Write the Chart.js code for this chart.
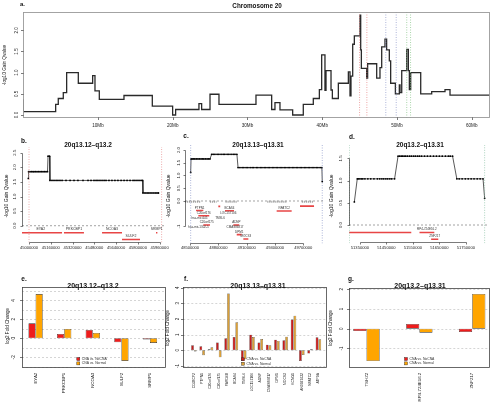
<!DOCTYPE html>
<html><head><meta charset="utf-8">
<script src="https://cdn.jsdelivr.net/npm/chart.js@4.4.1/dist/chart.umd.min.js"></script>
<style>
html,body{margin:0;padding:0;background:#fff;}
#wrap{position:relative;width:493px;height:407px;overflow:hidden;background:#fff;font-family:"Liberation Sans",Arial,Helvetica,sans-serif;color:#111;}
#wrap canvas{position:absolute;left:0;top:0;}
.t{position:absolute;white-space:nowrap;line-height:1;transform:translate(-50%,-50%);}
.b{font-weight:bold;}
.r{transform:translate(-50%,-50%) rotate(-90deg);}
</style></head><body>
<div id="wrap">
<canvas id="pa" width="493" height="407"></canvas>
<canvas id="pb" width="493" height="407"></canvas>
<canvas id="pc" width="493" height="407"></canvas>
<canvas id="pd" width="493" height="407"></canvas>
<canvas id="pe" width="493" height="407"></canvas>
<canvas id="pf" width="493" height="407"></canvas>
<canvas id="pg" width="493" height="407"></canvas>

<div class="t b" style="left:22.5px;top:3.5px;font-size:6px">a.</div>
<div class="t b" style="left:257px;top:6px;font-size:6.3px">Chromosome 20</div>
<div class="t r" style="left:5px;top:65px;font-size:4.7px">-log10 Gain Qvalue</div>

<div class="t b" style="left:24px;top:141px;font-size:6.5px">b.</div>
<div class="t b" style="left:88px;top:145px;font-size:6.5px">20q13.12–q13.2</div>
<div class="t r" style="left:5.5px;top:196px;font-size:5px">-log10 Gain Qvalue</div>

<div class="t b" style="left:186px;top:136px;font-size:6.5px">c.</div>
<div class="t b" style="left:258px;top:145px;font-size:6.5px">20q13.13–q13.31</div>
<div class="t r" style="left:167.5px;top:196px;font-size:5px">-log10 Gain Qvalue</div>

<div class="t b" style="left:352px;top:137px;font-size:6.5px">d.</div>
<div class="t b" style="left:420px;top:145px;font-size:6.5px">20q13.2–q13.31</div>
<div class="t r" style="left:330.5px;top:196px;font-size:5px">-log10 Gain Qvalue</div>

<div class="t b" style="left:24px;top:279px;font-size:6.5px">e.</div>
<div class="t b" style="left:93px;top:285px;font-size:7px">20q13.12–q13.2</div>
<div class="t r" style="left:7.5px;top:326px;font-size:4.6px">log2 Fold Change</div>

<div class="t b" style="left:186px;top:279px;font-size:6.5px">f.</div>
<div class="t b" style="left:258px;top:284.5px;font-size:7px">20q13.13–q13.31</div>
<div class="t r" style="left:167.5px;top:328px;font-size:4.6px">log2 Fold Change</div>

<div class="t b" style="left:351px;top:279px;font-size:6.5px">g.</div>
<div class="t b" style="left:420px;top:284.5px;font-size:7px">20q13.2–q13.31</div>
<div class="t r" style="left:331px;top:328px;font-size:4.6px">log2 Fold Change</div>
</div>

<script>
// ---------------- DATA ----------------
// a. chromosome 20 segment starts (Mb) and -log10 gain q-values
const chrStartMb = [0, 4.34, 4.69, 5.36, 5.81, 7.37, 9.29, 9.60, 10.18, 13.48, 17.27, 19.99, 20.39, 23.51, 23.87, 24.99, 26.19, 31.14, 33.24, 33.68, 34.35, 36.05, 37.47, 38.81, 39.62, 39.93, 40.37, 40.51, 41.18, 41.36, 42.16, 43.50, 43.72, 43.85, 44.08, 44.30, 45.06, 45.15, 45.24, 45.95, 46.08, 47.29, 47.73, 47.96, 48.40, 48.62, 48.98, 49.16, 49.79, 50.32, 50.41, 50.64, 51.31, 51.53, 51.66, 51.84, 53.18, 54.65, 56.43, 57.10, 59.33, 62.45];
const chrQ = [0.37, 0.08, 0.25, 0.39, 0.53, 1.00, 0.75, 0.93, 0.57, 0.37, 0.46, 0.21, 0.00, 0.13, 0.27, 0.13, 0.49, 0.25, 0.47, 0.13, 0.29, 0.12, 0.00, 0.25, 0.39, 0.60, 1.42, 0.58, 1.05, 0.59, 0.39, 0.75, 1.02, 0.45, 0.92, 1.67, 1.87, 2.36, 1.54, 1.10, 0.87, 1.21, 0.87, 1.12, 1.61, 1.79, 1.54, 1.28, 0.75, 0.50, 0.71, 0.53, 1.05, 1.55, 1.05, 0.60, 1.00, 0.50, 0.55, 0.60, 0.47, 0.47];
const chrTickMb = [10, 20, 30, 40, 50, 60];
const chrTickLabels = ['10Mb', '20Mb', '30Mb', '40Mb', '50Mb', '60Mb'];
const qTicksA = [0, 0.5, 1, 1.5, 2];
const qLabelsA = ['0.0', '0.5', '1.0', '1.5', '2.0'];

// zoomed regions (Mb)
const regionB = [45.0, 45.975];
const regionC = [48.507, 49.901];
const regionD = [51.31, 51.821];

// b. 20q13.12-q13.2 probes
const bMb = [44.995, 44.997, 45.007, 45.018, 45.029, 45.037, 45.048, 45.059, 45.070, 45.081, 45.092, 45.103, 45.114, 45.125, 45.136, 45.140, 45.151, 45.154, 45.169, 45.184, 45.199, 45.213, 45.228, 45.243, 45.272, 45.302, 45.331, 45.360, 45.397, 45.434, 45.456, 45.478, 45.493, 45.507, 45.522, 45.537, 45.552, 45.566, 45.588, 45.610, 45.632, 45.654, 45.677, 45.699, 45.721, 45.743, 45.765, 45.779, 45.794, 45.809, 45.824, 45.835, 45.838, 45.853, 45.868, 45.882, 45.897, 45.912, 45.927, 45.941, 45.952];
const bQ = [1.62, 1.85, 1.85, 1.85, 1.85, 1.85, 1.85, 1.85, 1.85, 1.85, 1.85, 1.85, 1.85, 1.85, 1.85, 2.38, 2.38, 1.55, 1.55, 1.55, 1.55, 1.55, 1.55, 1.55, 1.55, 1.55, 1.55, 1.55, 1.55, 1.55, 1.55, 1.55, 1.55, 1.55, 1.55, 1.55, 1.55, 1.55, 1.55, 1.55, 1.55, 1.55, 1.55, 1.55, 1.55, 1.55, 1.55, 1.55, 1.55, 1.55, 1.55, 1.55, 1.12, 1.12, 1.12, 1.12, 1.12, 1.12, 1.12, 1.12, 1.12];
const bTicks = [45.00, 45.16, 45.32, 45.48, 45.64, 45.80, 45.96];
const bTickLabels = ['45000000', '45160000', '45320000', '45480000', '45640000', '45800000', '45960000'];
const bQTicks = [0, 0.5, 1, 1.5, 2, 2.5];
const bQLabels = ['0.0', '0.5', '1.0', '1.5', '2.0', '2.5'];
const bGeneName = ['EYA2', 'PRKCBP1', 'NCOA3', 'SULF2', 'SRMP1'];
const bGeneStart = [44.93, 45.257, 45.537, 45.684, 45.934];
const bGeneEnd = [45.243, 45.404, 45.684, 45.816, 45.944];
const bGeneRow = [-0.24, -0.24, -0.24, -0.47, -0.24];

// c. 20q13.13-q13.31 probes
const cMb = [48.507, 48.511, 48.522, 48.536, 48.551, 48.567, 48.584, 48.600, 48.617, 48.633, 48.647, 48.664, 48.681, 48.697, 48.712, 48.729, 48.745, 48.764, 48.787, 48.806, 48.829, 48.851, 48.869, 48.893, 48.912, 48.935, 48.957, 48.976, 48.997, 49.009, 49.029, 49.052, 49.071, 49.094, 49.113, 49.137, 49.158, 49.176, 49.201, 49.219, 49.243, 49.262, 49.285, 49.304, 49.327, 49.346, 49.370, 49.389, 49.412, 49.431, 49.454, 49.474, 49.497, 49.516, 49.539, 49.558, 49.582, 49.601, 49.624, 49.643, 49.666, 49.685, 49.709, 49.728, 49.751, 49.770, 49.793, 49.813, 49.836, 49.855, 49.878, 49.897, 49.901];
const cQ = [1.12, 1.65, 1.65, 1.65, 1.65, 1.65, 1.65, 1.65, 1.65, 1.65, 1.65, 1.65, 1.65, 1.65, 1.65, 1.83, 1.83, 1.83, 1.83, 1.83, 1.83, 1.83, 1.83, 1.83, 1.83, 1.83, 1.83, 1.83, 1.83, 1.31, 1.31, 1.31, 1.31, 1.31, 1.31, 1.31, 1.31, 1.31, 1.31, 1.31, 1.31, 1.31, 1.31, 1.31, 1.31, 1.31, 1.31, 1.31, 1.31, 1.31, 1.31, 1.31, 1.31, 1.31, 1.31, 1.31, 1.31, 1.31, 1.31, 1.31, 1.31, 1.31, 1.31, 1.31, 1.31, 1.31, 1.31, 1.31, 1.31, 1.31, 1.31, 1.31, 0.76];
const cTicks = [48.5, 48.8, 49.1, 49.4, 49.7];
const cTickLabels = ['48500000', '48800000', '49100000', '49400000', '49700000'];
const cQTicks = [-1, 0, 0.5, 1, 1.5, 2];
const cQLabels = ['-1', '0.0', '0.5', '1.0', '1.5', '2.0'];
const cGeneName = ['PTPN1', 'C20orf176', 'hsa-mir-645', 'C20orf175', 'hsa-mir-1302-5', '', 'BCAS4', 'LOC157106', 'TMSL6', 'ADNP', 'CMAS86817', 'DPM1', 'MOCS3', 'NFATC2', ''];
const cGeneStart = [48.564, 48.588, 48.600, 48.641, 48.590, 48.800, 48.871, 48.905, 48.818, 48.959, 48.977, 48.995, 49.065, 49.418, 49.665];
const cGeneEnd = [48.641, 48.704, 48.600, 48.712, 48.590, 48.820, 48.966, 48.905, 48.818, 49.022, 48.977, 49.048, 49.118, 49.577, 49.814];
const cGeneRow = [-0.37, -0.58, -0.76, -0.94, -1.14, -0.21, -0.38, -0.58, -0.76, -0.94, -1.14, -1.32, -1.49, -0.39, -0.20];
const cStrandStart = [48.447, 48.711, 48.876, 49.318, 49.684];
const cStrandEnd = [48.615, 48.782, 48.999, 49.530, 49.807];

// d. 20q13.2-q13.31 probes
const dMb = [51.329, 51.340, 51.344, 51.350, 51.356, 51.361, 51.369, 51.380, 51.391, 51.403, 51.416, 51.425, 51.433, 51.440, 51.448, 51.455, 51.463, 51.470, 51.481, 51.494, 51.500, 51.506, 51.511, 51.517, 51.523, 51.530, 51.538, 51.545, 51.553, 51.560, 51.568, 51.575, 51.583, 51.594, 51.605, 51.616, 51.628, 51.639, 51.650, 51.661, 51.673, 51.684, 51.691, 51.700, 51.716, 51.725, 51.736, 51.748, 51.759, 51.770, 51.781, 51.793, 51.804, 51.815, 51.821];
const dQ = [0.52, 1.04, 1.04, 1.04, 1.04, 1.04, 1.04, 1.04, 1.04, 1.04, 1.04, 1.04, 1.04, 1.04, 1.04, 1.04, 1.04, 1.04, 1.04, 1.55, 1.55, 1.55, 1.55, 1.55, 1.55, 1.55, 1.55, 1.55, 1.55, 1.55, 1.55, 1.55, 1.55, 1.55, 1.55, 1.55, 1.55, 1.55, 1.55, 1.55, 1.55, 1.55, 1.55, 1.55, 1.04, 1.04, 1.04, 1.04, 1.04, 1.04, 1.04, 1.04, 1.04, 1.04, 0.60];
const dTicks = [51.35, 51.45, 51.55, 51.65, 51.75];
const dTickLabels = ['51350000', '51450000', '51550000', '51650000', '51750000'];
const dQTicks = [0, 0.5, 1, 1.5];
const dQLabels = ['0.0', '0.5', '1.0', '1.5'];
const dGeneName = ['', 'RP4-724E16.2', 'ZNF217'];
const dGeneStart = [51.20, 51.575, 51.619];
const dGeneEnd = [51.544, 51.631, 51.646];
const dGeneRow = [-0.17, -0.17, -0.32];

// e-g. log2 fold change
const seriesNames = ['CNA vs. NoCNA', 'CNA vs. Normal'];
const eGenes = ['EYA2', 'PRKCBP1', 'NCOA3', 'SULF2', 'SRMP1'];
const eNoCNA = [1.58, 0.46, 0.88, -0.42, -0.14];
const eNormal = [4.66, 0.98, 0.56, -2.39, -0.49];
const eTicks = [-2, 0, 2, 4];

const fGenes = ['CD38CP2', 'PTPN1', 'C20orf176', 'C20orf175', 'PARD6B', 'BCAS4', 'TMSL6', 'LOC157106', 'ADNP', 'CMAS86817', 'DPM1', 'MOCS3', 'KCNG1', 'AK0927432', 'NFATC2', 'ATP9A'];
const fNoCNA = [0.32, 0.26, 0.06, 0.49, 0.77, 0.85, -0.66, 1.00, 0.49, 0.36, 0.68, 0.64, 1.96, -0.68, -0.21, 0.83];
const fNormal = [-0.08, -0.32, 0.19, -0.45, 3.62, 1.79, -0.57, 0.85, 0.72, 0.32, 0.60, 0.87, 2.21, -0.30, 0.06, 0.70];
const fTicks = [-1, 0, 1, 2, 3, 4];

const gGenes = ['TSHZ2', 'RP4-724E16.2', 'ZNF217'];
const gNoCNA = [-0.12, 0.24, -0.17];
const gNormal = [-1.64, -0.20, 1.76];
const gTicks = [-1, 0, 1, 2];

// ---------------- RENDERING ----------------
const FF = '"Liberation Sans", Arial, Helvetica, sans-serif';
const W = 493, H = 407;
const RED = '#ee1c1c', ORANGE = '#ffa500', GENE_RED = '#e84545';
const RED_DK = '#c41e1e', ORANGE_DK = '#d9a03a';
Chart.defaults.font.family = FF;
Chart.defaults.animation = false;
Chart.defaults.events = [];
Chart.defaults.plugins.legend.display = false;
Chart.defaults.plugins.tooltip.enabled = false;

function el(id){ return document.getElementById(id); }
function padFor(a){ return {left:a.l, top:a.t, right:W-a.r, bottom:H-a.b}; }
function sc(min, max, extra){
  return Object.assign({
    type:'linear', min:min, max:max, display:true, offset:false,
    ticks:{display:false}, grid:{display:false, drawTicks:false, offset:false}, border:{display:false},
    afterFit:function(s){ if(s.isHorizontal()){ s.height=0; } else { s.width=0; }
      s.paddingLeft=0; s.paddingRight=0; s.paddingTop=0; s.paddingBottom=0; }
  }, extra || {});
}

function rPlot(cfg){
  return {
    id:'rplot',
    beforeDatasetsDraw(chart){
      if(!cfg.grid) return;
      const ctx=chart.ctx, a=chart.chartArea, y=chart.scales.y;
      ctx.save(); ctx.strokeStyle='#c4c4c4'; ctx.lineWidth=0.7; ctx.setLineDash([2,2]);
      cfg.grid.forEach(v=>{ const p=Math.round(y.getPixelForValue(v))+0.5;
        ctx.beginPath(); ctx.moveTo(a.left,p); ctx.lineTo(a.right,p); ctx.stroke(); });
      ctx.restore();
    },
    afterDatasetsDraw(chart){
      const ctx=chart.ctx, x=chart.scales.x, y=chart.scales.y, a=chart.chartArea;
      ctx.save();
      if(cfg.genes){
        const g=cfg.genes;
        ctx.font=g.size+'px '+FF; ctx.fillStyle='#333'; ctx.textAlign='center'; ctx.textBaseline='middle';
        g.names.forEach((n,i)=>{ if(!n) return;
          const gx=x.getPixelForValue((g.start[i]+g.end[i])/2);
          const gy=y.getPixelForValue(g.row[i])-g.off;
          ctx.fillText(n,gx,gy); });
      }
      if(cfg.legend){
        const L=cfg.legend;
        ctx.font=L.size+'px '+FF; ctx.textAlign='left'; ctx.textBaseline='middle';
        L.items.forEach((it,i)=>{
          const lx=a.left+L.dx, ly=a.bottom-L.dy[i];
          ctx.fillStyle=it.color; ctx.fillRect(lx-1.5,ly-1.5,3,3);
          ctx.strokeStyle='#222'; ctx.lineWidth=0.4; ctx.strokeRect(lx-1.5,ly-1.5,3,3);
          ctx.fillStyle='#333'; ctx.fillText(it.text,lx+3.5,ly);
        });
      }
      ctx.restore();
    },
    afterDraw(chart){
      const ctx=chart.ctx, x=chart.scales.x, y=chart.scales.y, a=chart.chartArea;
      ctx.save();
      if(cfg.frame){
        ctx.strokeStyle=cfg.frame; ctx.lineWidth=cfg.frameW||0.8;
        const L=Math.round(a.left)+0.5, T=Math.round(a.top)+0.5, R=Math.round(a.right)-0.5, B=Math.round(a.bottom)-0.5;
        ctx.strokeRect(L,T,R-L,B-T);
      }
      ctx.strokeStyle=cfg.axisColor||'#222'; ctx.fillStyle='#222'; ctx.lineWidth=0.6;
      // y axis
      const ax=Math.round(a.left)+0.5;
      const yp=cfg.yTicks.map(v=>y.getPixelForValue(v));
      if(cfg.yLine){ ctx.beginPath(); ctx.moveTo(ax,Math.round(yp[0])+0.5); ctx.lineTo(ax,Math.round(yp[yp.length-1])+0.5); ctx.stroke(); }
      ctx.font=cfg.yFont+'px '+FF;
      yp.forEach((p,i)=>{
        const pp=Math.round(p)+0.5;
        ctx.beginPath(); ctx.moveTo(ax,pp); ctx.lineTo(ax-cfg.tick,pp); ctx.stroke();
        ctx.save(); ctx.translate(a.left-cfg.yLabOff,p); ctx.rotate(-Math.PI/2);
        ctx.textAlign='center'; ctx.textBaseline='middle'; ctx.fillText(cfg.yLabels[i],0,0); ctx.restore();
      });
      // x axis
      if(cfg.xTicks){
        const ay=Math.round(a.bottom)-0.5;
        const xp=cfg.xTicks.map(v=>x.getPixelForValue(v));
        if(cfg.xLine){ ctx.beginPath(); ctx.moveTo(Math.round(xp[0])+0.5,ay); ctx.lineTo(Math.round(xp[xp.length-1])+0.5,ay); ctx.stroke(); }
        ctx.font=cfg.xFont+'px '+FF; ctx.textAlign='center'; ctx.textBaseline='middle';
        xp.forEach((p,i)=>{
          const pp=Math.round(p)+0.5;
          ctx.beginPath(); ctx.moveTo(pp,ay); ctx.lineTo(pp,ay+cfg.tick); ctx.stroke();
          ctx.fillText(cfg.xLabels[i],p,a.bottom+cfg.xLabOff);
        });
      }
      if(cfg.cats){
        ctx.font=cfg.catFont+'px '+FF;
        cfg.cats.forEach((n,i)=>{
          const p=x.getPixelForValue(cfg.catPos[i]);
          ctx.save(); ctx.translate(p,a.bottom+cfg.catOff); ctx.rotate(-Math.PI/2);
          ctx.textAlign='right'; ctx.textBaseline='middle'; ctx.fillText(n,0,0); ctx.restore();
        });
      }
      ctx.restore();
    }
  };
}

function vlines(xs, y0, y1){
  const d=[];
  xs.forEach(v=>{ d.push({x:v,y:y0}); d.push({x:v,y:y1}); d.push({x:v,y:null}); });
  return d;
}
function segs(starts, ends, rows){
  const d=[];
  starts.forEach((s,i)=>{ const r=Array.isArray(rows)?rows[i]:rows; d.push({x:s,y:r}); d.push({x:ends[i],y:r}); d.push({x:ends[i],y:null}); });
  return d;
}

// ---- a. Chromosome 20
(function(){
  const area={l:23, r:490, t:12, b:118};
  const ymin=-0.071, ymax=2.432;
  new Chart(el('pa'), {
    type:'line',
    data:{datasets:[
      {data:vlines(regionB,ymin,ymax), borderColor:'#e58080', borderWidth:0.7, borderDash:[1,1.5], pointRadius:0},
      {data:vlines(regionC,ymin,ymax), borderColor:'#8a93c8', borderWidth:0.7, borderDash:[1,1.5], pointRadius:0},
      {data:vlines(regionD,ymin,ymax), borderColor:'#86c486', borderWidth:0.7, borderDash:[1,1.5], pointRadius:0},
      {data:chrStartMb.map((v,i)=>({x:v,y:chrQ[i]})), stepped:'after', borderColor:'#2a2a2a', borderWidth:1.3, pointRadius:0}
    ]},
    options:{responsive:false, devicePixelRatio:1, layout:{padding:padFor(area)},
      scales:{x:sc(-0.03,62.45), y:sc(ymin,ymax)}},
    plugins:[rPlot({frame:'#9a9a9a', frameW:0.9, yTicks:qTicksA, yLabels:qLabelsA, yLine:false, tick:2.5, yLabOff:6.5, yFont:4.6,
      xTicks:chrTickMb, xLabels:chrTickLabels, xLine:false, xFont:4.6, xLabOff:8})]
  });
})();

function profile(id, area, xr, yr, mb, q, genes, regionColor, region, strand, cfg){
  const ds=[
    {data:[{x:xr[0],y:0},{x:xr[1],y:0}], borderColor:'#8c8c8c', borderWidth:0.8, borderDash:[2,2], pointRadius:0},
    {data:vlines(region,yr[0],yr[1]), borderColor:regionColor, borderWidth:0.7, borderDash:[1,1.5], pointRadius:0}
  ];
  if(strand) ds.push({data:segs(strand.start,strand.end,-0.03), borderColor:'#a8a8a8', borderWidth:2, borderDash:[1.2,0.8], pointRadius:0});
  ds.push({data:segs(genes.start,genes.end,genes.row), borderColor:GENE_RED, borderWidth:1.6, pointRadius:0});
  ds.push({data:mb.map((v,i)=>({x:v,y:q[i]})), borderColor:'#111', borderWidth:0.7, pointRadius:0.9, pointBackgroundColor:'#000', pointBorderWidth:0});
  cfg.genes=genes;
  new Chart(el(id), {
    type:'line', data:{datasets:ds},
    options:{responsive:false, devicePixelRatio:1, layout:{padding:padFor(area)},
      scales:{x:sc(xr[0],xr[1]), y:sc(yr[0],yr[1])}},
    plugins:[rPlot(cfg)]
  });
}

// ---- b.
profile('pb', {l:22, r:164, t:147, b:242.5}, [44.9485, 45.9926], [-0.575, 2.695], bMb, bQ,
  {names:bGeneName, start:bGeneStart, end:bGeneEnd, row:bGeneRow, size:3.5, off:3.4}, '#e58a8a', regionB, null,
  {yTicks:bQTicks, yLabels:bQLabels, yLine:true, tick:2, yLabOff:7, yFont:4.3,
   xTicks:bTicks, xLabels:bTickLabels, xLine:true, xFont:4.1, xLabOff:5.8});

// ---- c.
profile('pc', {l:185, r:324, t:144, b:243.5}, [48.447, 49.9195], [-1.667, 2.235], cMb, cQ,
  {names:cGeneName, start:cGeneStart, end:cGeneEnd, row:cGeneRow, size:3, off:2.4}, '#8a96c8', regionC,
  {start:cStrandStart, end:cStrandEnd},
  {yTicks:cQTicks, yLabels:cQLabels, yLine:true, tick:2, yLabOff:5.7, yFont:4.3,
   xTicks:cTicks, xLabels:cTickLabels, xLine:true, xFont:4.1, xLabOff:4.3});

// ---- d.
profile('pd', {l:349, r:490, t:145, b:243.3}, [51.3088, 51.8375], [-0.412, 1.802], dMb, dQ,
  {names:dGeneName, start:dGeneStart, end:dGeneEnd, row:dGeneRow, size:3, off:3}, '#86bfa0', regionD, null,
  {yTicks:dQTicks, yLabels:dQLabels, yLine:true, tick:2, yLabOff:8.5, yFont:4.3,
   xTicks:dTicks, xLabels:dTickLabels, xLine:true, xFont:4.1, xLabOff:4.4});

// ---- e-g. bar charts
function bars(id, area, genes, v1, v2, xr, yr, ticks, cfg){
  const pos=genes.map((g,i)=>3+4*i); // barplot group centres
  const c1=cfg.colors[0], c2=cfg.colors[1];
  const mk=(vals,color)=>({data:vals.map((v,i)=>({x:pos[i],y:v})), backgroundColor:color, borderColor:'#2a2a2a', borderWidth:cfg.bw, borderSkipped:false, categoryPercentage:cfg.cp, barPercentage:1});
  const d1=mk(v1,c1); d1.label=seriesNames[0];
  const d2=mk(v2,c2); d2.label=seriesNames[1];
  cfg.cats=genes; cfg.catPos=pos; cfg.yTicks=ticks; cfg.yLabels=ticks.map(String);
  cfg.legend={dx:cfg.legDx, dy:[8.7,4.3], size:3.4, items:[{color:c1,text:seriesNames[0]},{color:c2,text:seriesNames[1]}]};
  new Chart(el(id), {
    type:'bar', data:{datasets:[d1,d2]},
    options:{responsive:false, devicePixelRatio:1, layout:{padding:padFor(area)},
      scales:{x:sc(xr[0],xr[1],{afterBuildTicks(s){ s.ticks=pos.map(v=>({value:v})); }}), y:sc(yr[0],yr[1])}},
    plugins:[rPlot(cfg)]
  });
}

bars('pe', {l:22, r:165.7, t:287.3, b:367.7}, eGenes, eNoCNA, eNormal, [1.1, 21.2], [-3.1, 5.37], eTicks,
  {frame:'#444', grid:[-3,-2,-1,0,1,2,3,4,5], yLine:false, tick:2.5, yLabOff:8.5, yFont:4.8, catFont:4.4, catOff:5, legDx:56.3, cp:0.5, bw:0.6, colors:[RED,ORANGE]});
bars('pf', {l:183.3, r:326.7, t:287, b:368}, fGenes, fNoCNA, fNormal, [-2.1, 67.0], [-1.13, 4.04], fTicks,
  {frame:'#444', grid:[-1,0,1,2,3,4], yLine:false, tick:2.5, yLabOff:6, yFont:4.5, catFont:3.4, catOff:5, legDx:59.7, cp:0.66, bw:0.45, colors:[RED_DK,ORANGE_DK]});
bars('pg', {l:349.3, r:490, t:287.7, b:367.7}, gGenes, gNoCNA, gNormal, [1.7, 12.35], [-1.98, 2.08], gTicks,
  {frame:'#444', grid:[-1,0,1,2], yLine:false, tick:2.5, yLabOff:7.6, yFont:4.5, catFont:4.4, catOff:5, legDx:56.7, cp:0.5, bw:0.6, colors:[RED,ORANGE]});
</script>
</body></html>
